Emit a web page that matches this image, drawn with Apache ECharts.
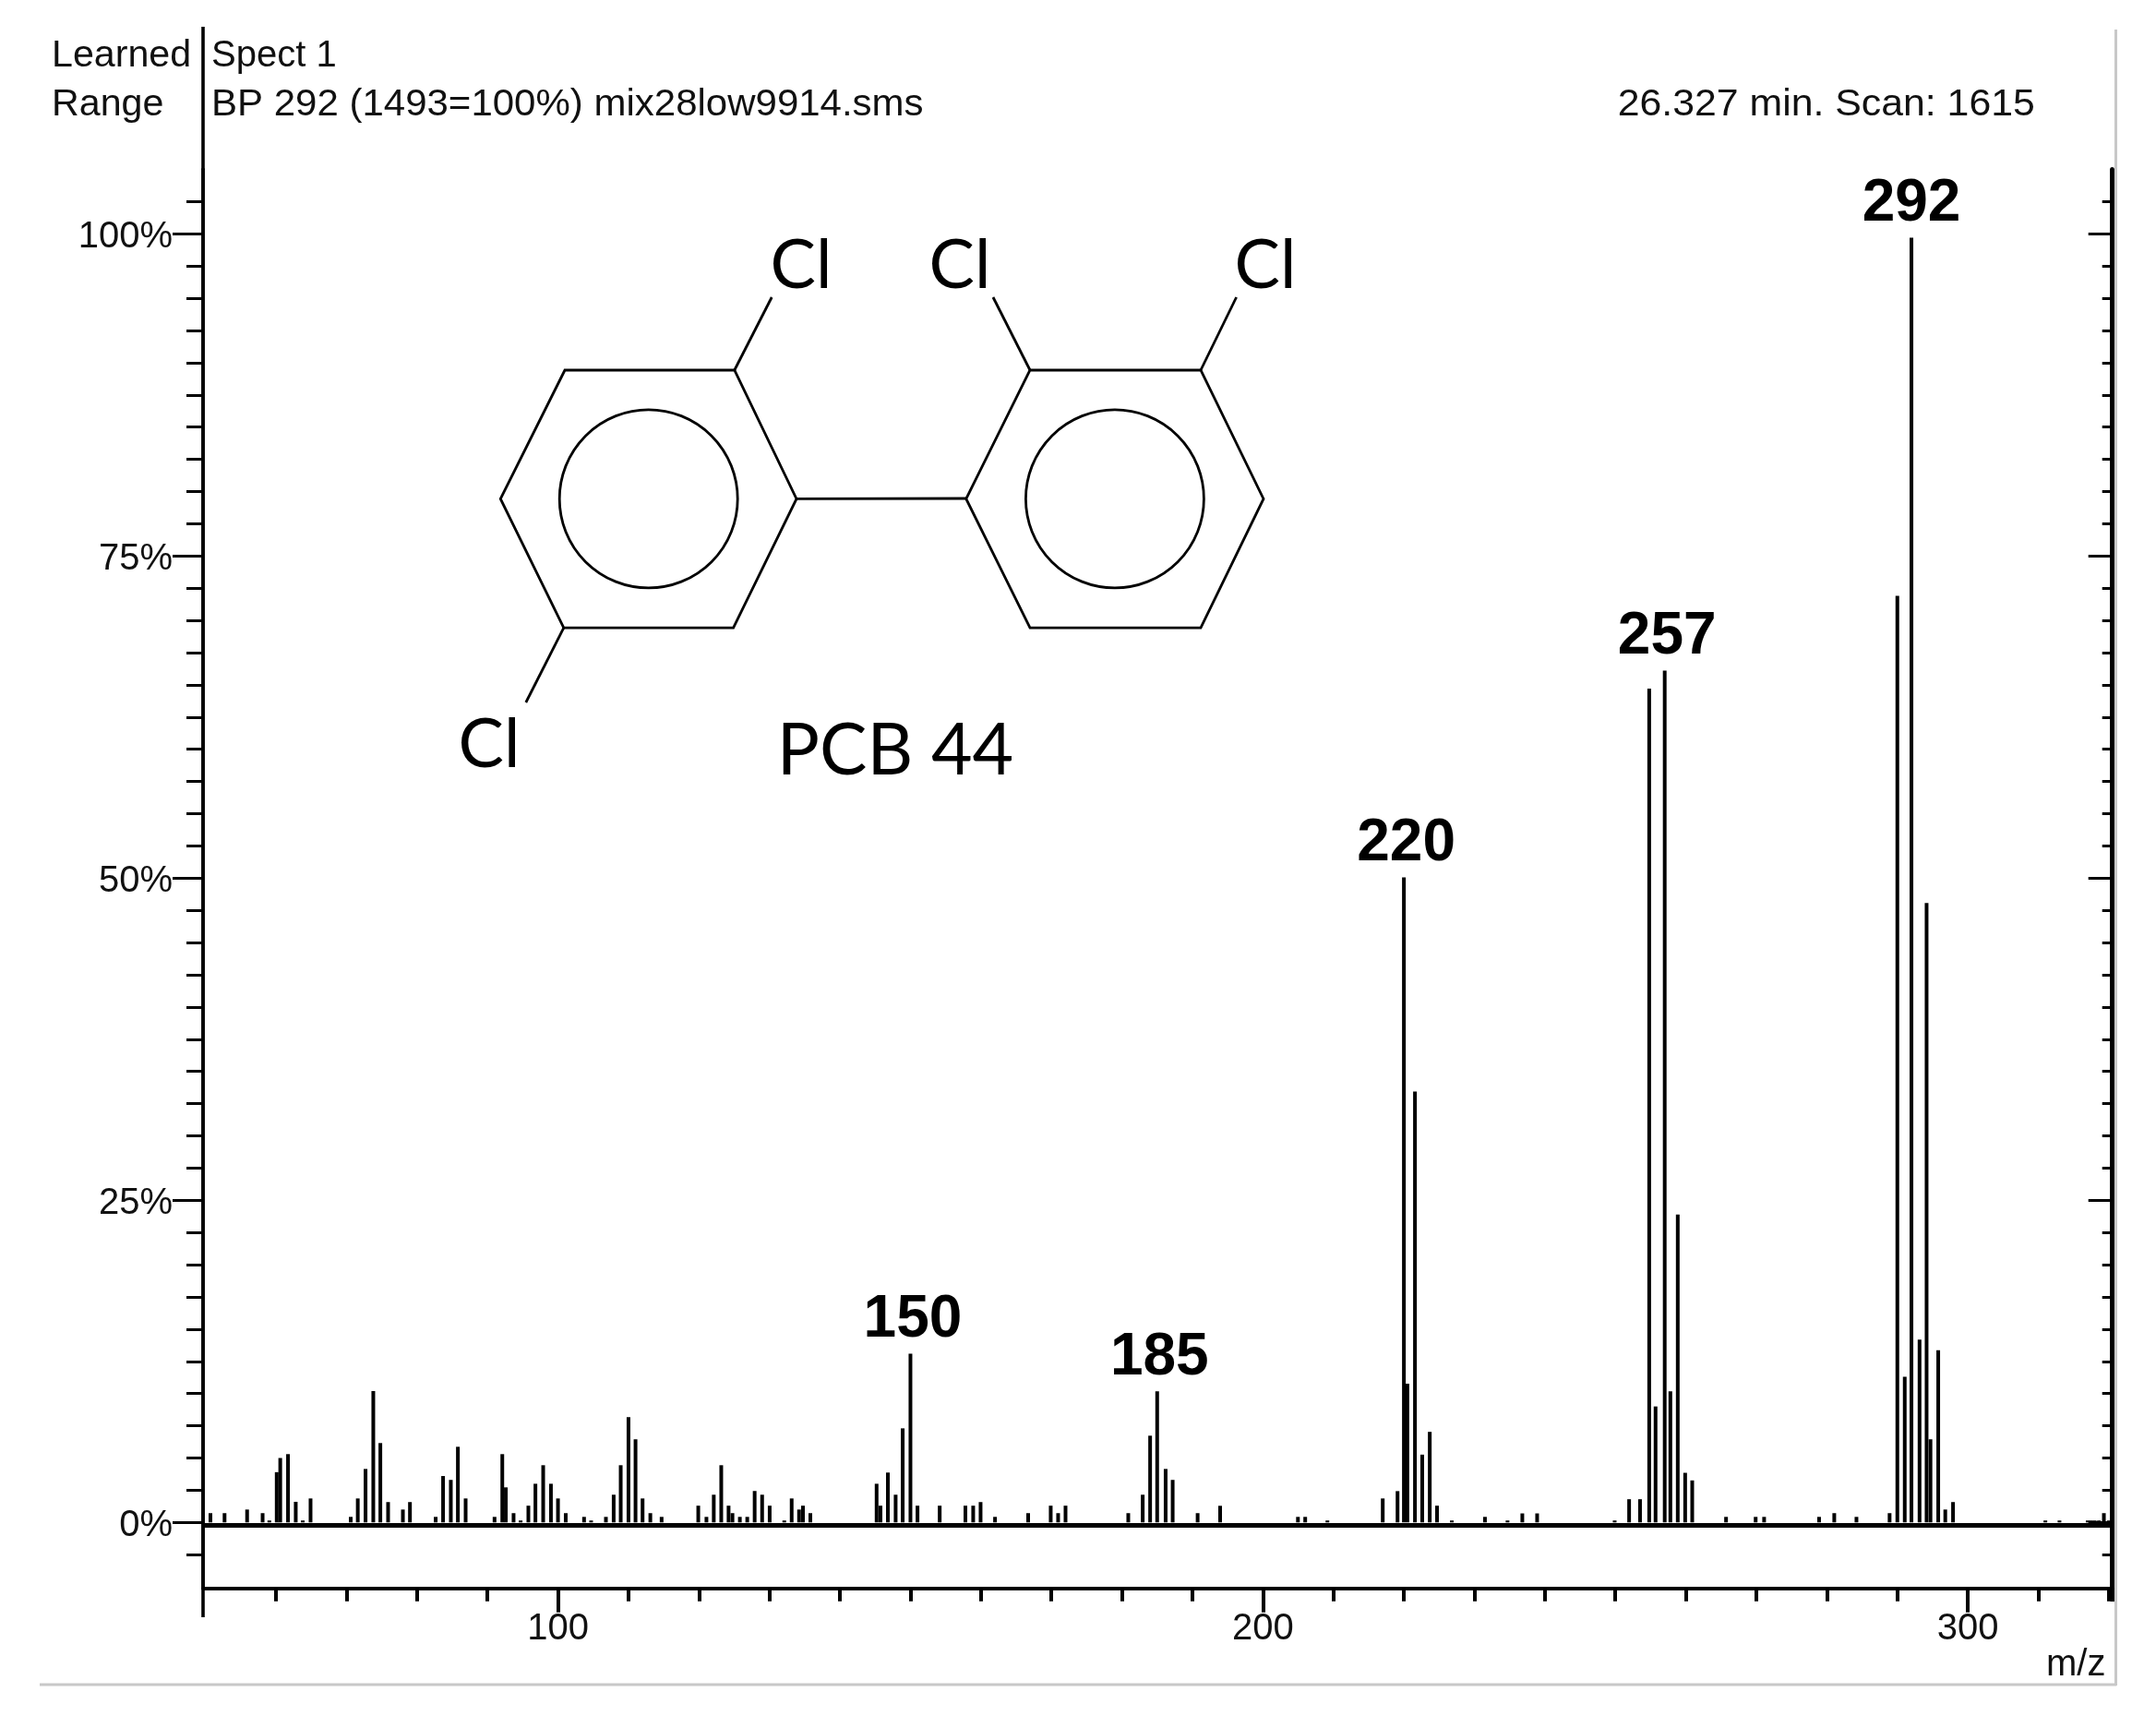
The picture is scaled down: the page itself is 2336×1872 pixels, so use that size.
<!DOCTYPE html>
<html>
<head>
<meta charset="utf-8">
<style>html,body{margin:0;padding:0;background:#fff}#c{width:2336px;height:1872px}</style>
<script src="https://cdn.jsdelivr.net/npm/echarts@6/dist/echarts.min.js"></script>
</head>
<body>
<div id="c"></div>
<script>
// Peaks
const mzValues = [
  50.7,52.7,55.9,58.1,59.05,60.1,60.6,61.7,62.8,63.8,64.9,70.6,71.6,72.7,73.8,74.8,75.9,78,79,82.65,83.7,84.8,85.8,86.9,
  91,92.1,92.6,93.7,94.7,95.8,96.8,97.9,99,100,101.1,103.7,104.7,106.8,107.9,108.9,110,111,112,113.1,114.7,119.9,
  121.06,122.1,123.16,124.2,124.75,125.8,126.85,127.9,128.96,130.03,132.1,133.15,134.2,134.75,135.8,
  145.2,145.75,146.8,147.9,148.9,150,151,154.15,157.8,158.9,159.95,162,166.7,169.9,170.95,172,
  180.9,182.95,184,185,186.2,187.2,190.74,193.93,204.97,206,209.15,217,219.1,
  220,220.5,221.57,222.6,223.67,224.7,226.8,231.5,234.7,236.8,238.9,249.9,251.95,253.5,
  254.8,255.7,257,257.8,258.85,259.9,260.9,265.7,269.9,271.1,278.9,281.05,284.2,288.9,
  290,291.05,292,293.15,294.15,294.7,295.8,296.8,297.9,311,313,317,317.5,318,318.6,319.3,320
];
const intensities = [
  .72,.72,1,.72,.15,3.9,5,5.3,1.6,.15,1.86,.43,1.86,4.15,10.2,6.16,1.58,1,1.58,.43,3.6,3.3,5.87,1.86,
  .43,5.3,2.72,.72,.15,1.3,3,4.44,3,1.86,.72,.43,.15,.43,2.15,4.44,8.17,6.45,1.86,.72,.43,1.3,
  .43,2.15,4.44,1.3,.72,.43,.43,2.44,2.15,1.3,.15,1.86,1,1.3,.72,
  3,1.3,3.87,2.15,7.3,13.1,1.3,1.3,1.3,1.3,1.58,.43,.72,1.3,.72,1.3,
  .72,2.15,6.73,10.17,4.15,3.3,.72,1.29,.43,.43,.15,1.86,2.43,
  50.06,10.77,33.44,5.26,7.03,1.3,.15,.43,.15,.7,.7,.15,1.8,1.8,
  64.7,9,66.1,10.18,23.9,3.85,3.26,.43,.43,.43,.43,.72,.43,.72,
  71.9,11.3,99.7,14.18,48.07,6.45,13.37,1,1.58,.15,.15,.15,.15,.15,.15,.72,.15
];
const labelledPeaks = [150, 185, 220, 257, 292];
const xMajorTicks = [100, 200, 300];
const xMinorTicks = [60,70,80,90,110,120,130,140,150,160,170,180,190,210,220,230,240,250,260,270,280,290,310,320];
const yMajorTicks = [0, 25, 50, 75, 100];
const yMinorTicks = [-2.5,2.5,5,7.5,10,12.5,15,17.5,20,22.5,27.5,30,32.5,35,37.5,40,42.5,45,47.5,52.5,55,57.5,60,62.5,65,67.5,70,72.5,77.5,80,82.5,85,87.5,90,92.5,95,97.5,102.5];

const sans = '"Liberation Sans", Arial, sans-serif';
const ink = '#000';

function txt(text, x, y, opt) {
  opt = opt || {};
  return {
    type: 'text', x: x, y: y, silent: true, z: 20, scaleX: opt.scaleX || 1,
    style: {
      text: text, x: 0, y: 0,
      fontFamily: opt.family || sans, fontSize: opt.size || 40,
      fill: opt.fill || '#111',
      textAlign: opt.align || 'left', textVerticalAlign: opt.valign || 'middle'
    }
  };
}
function seg(x1, y1, x2, y2, w, c) {
  return { type: 'line', silent: true, z: 15, shape: { x1, y1, x2, y2 }, style: { stroke: c || ink, lineWidth: w || 2.5, lineCap: 'butt' } };
}
function ring(points) {
  return { type: 'polygon', silent: true, z: 15, shape: { points: points }, style: { fill: 'none', stroke: ink, lineWidth: 2.8 } };
}
function circle(cx, cy, r) {
  return { type: 'circle', silent: true, z: 15, shape: { cx, cy, r }, style: { fill: 'none', stroke: ink, lineWidth: 2.8 } };
}

const clFont = { family: 'Lato, sans-serif', size: 74, align: 'center', fill: '#000' };

const decorations = [
  // frame of the screenshot
  seg(43, 1825, 2293, 1825, 3, '#c8c8c8'),
  seg(2292.5, 32, 2292.5, 1826, 3, '#c8c8c8'),
  // axis extensions
  seg(220, 29, 220, 184, 3.6),
  seg(220, 1720, 220, 1752, 3.6),
  seg(2288.7, 1720, 2288.7, 1735, 4.5),
  // header
  txt('Learned', 56, 61, { scaleX: 1.03 }), txt('Range', 56, 114, { scaleX: 1.03 }),
  txt('Spect 1', 229, 61),
  txt('BP 292 (1493=100%) mix28low9914.sms', 229, 114, { scaleX: 1.05 }),
  txt('26.327 min. Scan: 1615', 1752.7, 114, { scaleX: 1.07 }),
  txt('m/z', 2217, 1804),
  // structure of PCB 44
  ring([[542.3,540.4],[612,401],[795.8,401],[863,540.4],[794.6,680.2],[610.8,680.2]]),
  ring([[1046.8,540.4],[1116,401],[1301,401],[1369,540.4],[1301,680.2],[1116,680.2]]),
  circle(702.7, 540.4, 96.5),
  circle(1207.9, 540.4, 96.5),
  seg(863, 540.4, 1046.8, 540, 2.8),
  seg(795.8, 401, 836.2, 322, 2.8),
  seg(1116, 401, 1076, 322, 2.8),
  seg(1301, 401, 1339.6, 322, 2.8),
  seg(610.8, 680.2, 569.8, 761, 2.8),
  txt('Cl', 868, 288, clFont),
  txt('Cl', 1040, 288, clFont),
  txt('Cl', 1371, 288, clFont),
  txt('Cl', 530, 807, clFont),
  txt('PCB 44', 970, 814, { family: 'Lato, sans-serif', size: 77, align: 'center', fill: '#000' })
];

function yAxis(position, ticks, len, inside, lineW, labels) {
  return {
    type: 'value', position: position, min: -5.115, max: 105, scale: false,
    splitLine: { show: false },
    axisLine: { show: true, onZero: false, lineStyle: { color: ink, width: lineW } },
    axisTick: { show: true, inside: inside, length: len, customValues: ticks, lineStyle: { color: ink, width: 3 } },
    axisLabel: labels ? {
      show: true, customValues: yMajorTicks, margin: 33, color: '#111',
      formatter: v => '{p|' + v + '%}', showMinLabel: true, showMaxLabel: true,
      rich: { p: { padding: [7, 0, 0, 0], fontFamily: sans, fontSize: 40, color: '#111' } }
    } : { show: false }
  };
}
function xAxis(ticks, len, labels) {
  return {
    type: 'value', position: 'bottom', min: 49.65, max: 320.5,
    splitLine: { show: false },
    axisLine: { show: true, onZero: false, lineStyle: { color: ink, width: 3.6 } },
    axisTick: { show: true, length: len, customValues: ticks, lineStyle: { color: ink, width: 4 } },
    axisLabel: labels ? {
      show: true, customValues: xMajorTicks, margin: 24, color: '#111',
      fontFamily: sans, fontSize: 40
    } : { show: false }
  };
}

const chart = echarts.init(document.getElementById('c'), null, { renderer: 'canvas', width: 2336, height: 1872 });
chart.setOption({
  animation: false,
  backgroundColor: '#fff',
  grid: { left: 220, top: 183.5, width: 2068.7, height: 1537.2, containLabel: false },
  xAxis: [xAxis(xMajorTicks, 26, true), xAxis(xMinorTicks, 14, false)],
  yAxis: [
    yAxis('left', yMajorTicks, 33, false, 3.6, true),
    yAxis('left', yMinorTicks, 18, false, 3.6, false),
    yAxis('right', yMajorTicks, 26, true, 4.5, false),
    yAxis('right', yMinorTicks, 11, true, 4.5, false)
  ],
  series: [{
    type: 'bar', xAxisIndex: 0, yAxisIndex: 0, barWidth: 4, silent: true, clip: false,
    itemStyle: { color: ink },
    data: mzValues.map((m, i) => ({
      value: [m, intensities[i]],
      label: labelledPeaks.includes(m) ? {
        show: true, position: 'top', distance: 4, formatter: String(m),
        color: '#000', fontFamily: sans, fontSize: 64, fontWeight: 'bold',
        padding: m === 292 ? 0 : [0, 0, 0, 5]
      } : { show: false }
    })),
    markLine: {
      silent: true, symbol: 'none', label: { show: false }, animation: false,
      lineStyle: { color: ink, width: 5, type: 'solid' },
      data: [{ yAxis: -0.19 }]
    }
  }],
  graphic: { elements: decorations }
});
</script>
</body>
</html>
